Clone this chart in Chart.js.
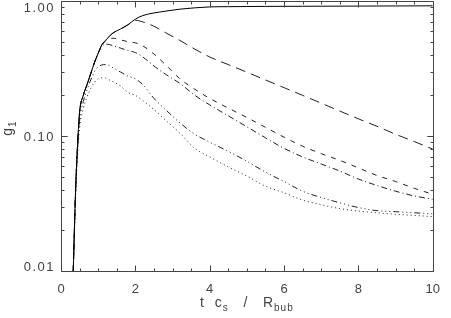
<!DOCTYPE html>
<html><head><meta charset="utf-8">
<script src="https://cdn.jsdelivr.net/npm/chart.js@4.4.0/dist/chart.umd.min.js"></script>
<style>html,body{margin:0;padding:0;background:#fff;overflow:hidden}</style>
</head><body>
<canvas id="c" width="451" height="318" style="display:block;width:451px;height:318px"></canvas>
<script>
// time axis (t c_s / R_bub)
const time = [0.33,0.36,0.4,0.45,0.5,0.6,0.7,0.8,0.9,1.0,1.1,1.2,1.3,1.4,1.6,1.8,2.0,2.2,2.5,2.8,3.2,3.6,4.0,4.5,5.0,5.5,6.0,6.5,7.0,7.5,8.0,8.5,9.0,9.5,10.0];
// g1 series
const gSolid    = [0.01,0.02,0.045,0.09,0.15,0.2,0.24,0.29,0.35,0.41,0.475,0.512,0.547,0.58,0.62,0.667,0.734,0.78,0.815,0.84,0.87,0.89,0.904,0.908,0.91,0.912,0.913,0.914,0.915,0.916,0.917,0.918,0.919,0.92,0.921];
const gLongDash = [0.01,0.02,0.045,0.09,0.15,0.2,0.24,0.29,0.35,0.41,0.475,0.512,0.547,0.58,0.62,0.665,0.72,0.70,0.65,0.585,0.51,0.44,0.385,0.338,0.297,0.26,0.228,0.2,0.175,0.153,0.134,0.118,0.103,0.091,0.08];
const gDash     = [0.01,0.02,0.045,0.09,0.15,0.2,0.24,0.29,0.35,0.41,0.47,0.505,0.53,0.53,0.515,0.50,0.49,0.465,0.405,0.34,0.265,0.222,0.19,0.161,0.137,0.116,0.098,0.084,0.074,0.066,0.058,0.051,0.046,0.041,0.037];
const gDashDot  = [0.01,0.02,0.045,0.09,0.15,0.2,0.24,0.29,0.35,0.41,0.46,0.48,0.476,0.466,0.448,0.43,0.415,0.385,0.33,0.288,0.245,0.2,0.17,0.141,0.117,0.097,0.081,0.07,0.062,0.055,0.048,0.043,0.039,0.036,0.034];
const gDash3Dot = [0.01,0.02,0.045,0.085,0.13,0.18,0.22,0.26,0.30,0.325,0.336,0.338,0.333,0.32,0.298,0.278,0.265,0.24,0.19,0.158,0.125,0.103,0.09,0.077,0.065,0.054,0.046,0.039,0.035,0.032,0.0295,0.028,0.0275,0.027,0.0265];
const gDotted   = [0.01,0.019,0.04,0.075,0.115,0.16,0.195,0.225,0.25,0.265,0.27,0.268,0.26,0.252,0.235,0.21,0.2,0.183,0.157,0.132,0.105,0.081,0.07,0.059,0.0505,0.0425,0.038,0.0335,0.031,0.029,0.0278,0.027,0.0263,0.0258,0.0253];
// ticks
const xTickValues = [0,2,4,6,8,10];
const xMinorStep = 0.5;
const yTickValues = [0.01,0.1,1];
const yTickLabels = ['0.01','0.10','1.00'];

const seriesList = [
  {data:gSolid, dash:[], color:'#000'},
  {data:gLongDash, dash:[10,6], color:'#222'},
  {data:gDash, dash:[5,6], color:'#222'},
  {data:gDashDot, dash:[6,3,1,3], color:'#222'},
  {data:gDash3Dot, dash:[6,3,1,3,1,3,1,3], color:'#222'},
  {data:gDotted, dash:[1,3], color:'#222'}
];

const FONT = '"Liberation Sans", Arial, sans-serif';
const TXT = '#444';

function drawRich(ctx, parts, startX, baseY, mainSize, subSize, subDrop){
  let x = startX;
  parts.forEach(p => {
    const size = p.sub ? subSize : mainSize;
    ctx.font = size + 'px ' + FONT;
    ctx.fillText(p.t, x, baseY + (p.sub ? subDrop : 0));
    x += ctx.measureText(p.t).width;
  });
  return x - startX;
}
function richWidth(ctx, parts, mainSize, subSize){
  let w = 0;
  parts.forEach(p => { ctx.font = (p.sub ? subSize : mainSize) + 'px ' + FONT; w += ctx.measureText(p.t).width; });
  return w;
}

const framePlugin = {
  id: 'frame',
  afterDraw(chart){
    const ctx = chart.ctx, a = chart.chartArea, xs = chart.scales.x, ys = chart.scales.y;
    ctx.save();
    ctx.strokeStyle = '#444'; ctx.lineWidth = 1;
    const L = Math.round(a.left)+0.5, R = Math.round(a.right)+0.5, T = Math.round(a.top)+0.5, B = Math.round(a.bottom)+0.5;
    ctx.beginPath();
    ctx.rect(L, T, R-L, B-T);
    for (let v = xs.min; v <= xs.max + 1e-9; v += xMinorStep){
      const px = Math.round(xs.getPixelForValue(v)) + 0.5;
      const major = xTickValues.some(t => Math.abs(t - v) < 1e-9);
      const len = major ? 6 : 3;
      ctx.moveTo(px, B); ctx.lineTo(px, B - len);
      ctx.moveTo(px, T); ctx.lineTo(px, T + len);
    }
    for (let d = Math.log10(ys.min); d < Math.log10(ys.max) - 1e-9; d++){
      for (let m = 1; m <= 10; m++){
        const v = m * Math.pow(10, d);
        const py = Math.round(ys.getPixelForValue(v)) + 0.5;
        const len = (m === 1 || m === 10) ? 6 : 3;
        ctx.moveTo(L, py); ctx.lineTo(L + len, py);
        ctx.moveTo(R, py); ctx.lineTo(R - len, py);
      }
    }
    ctx.stroke();
    // y tick labels
    ctx.fillStyle = TXT;
    ctx.font = '13px ' + FONT;
    ctx.textAlign = 'right'; ctx.textBaseline = 'middle';
    try { ctx.letterSpacing = '1.5px'; } catch(e) {}
    yTickValues.forEach((v, i) => {
      let py = ys.getPixelForValue(v) + 1.5;
      py = Math.min(Math.max(py, a.top + 7), a.bottom - 4);
      ctx.fillText(yTickLabels[i], a.left - 6, py);
    });
    // x title
    ctx.textAlign = 'left'; ctx.textBaseline = 'alphabetic';
    try { ctx.letterSpacing = '1px'; } catch(e) {}
    const xt = [{t:'t  c'},{t:'s',sub:true},{t:'   /   R'},{t:'bub',sub:true}];
    const w = richWidth(ctx, xt, 14, 10);
    const cx = (a.left + a.right)/2;
    drawRich(ctx, xt, cx - w/2, 307, 14, 10, 4);
    // y title
    const yt = [{t:'g'},{t:'1',sub:true}];
    ctx.save();
    ctx.translate(12, 128);
    ctx.rotate(-Math.PI/2);
    const wy = richWidth(ctx, yt, 14, 10);
    drawRich(ctx, yt, -wy/2, 0, 14, 10, 4);
    ctx.restore();
    ctx.restore();
  }
};

new Chart(document.getElementById('c'), {
  type: 'line',
  data: {
    datasets: seriesList.map(s => ({
      data: time.map((t, i) => ({x: t, y: s.data[i]})),
      borderColor: s.color,
      borderWidth: 1,
      borderDash: s.dash,
      pointRadius: 0,
      fill: false,
      cubicInterpolationMode: 'monotone'
    }))
  },
  options: {
    responsive: false,
    animation: false,
    devicePixelRatio: 1,
    layout: {padding: {top: 1, right: 9, left: 0, bottom: 0}},
    plugins: {legend: {display: false}, tooltip: {enabled: false}},
    scales: {
      x: {
        type: 'linear', min: 0, max: 10,
        grid: {display: false, drawTicks: false},
        border: {display: false},
        ticks: {stepSize: 2, color: TXT, font: {family: FONT, size: 13}, padding: 11, maxRotation: 0},
        afterBuildTicks: s => { s.ticks = xTickValues.map(v => ({value: v})); },
        afterFit: s => { s.height = 47; }
      },
      y: {
        type: 'logarithmic', min: 0.01, max: 1,
        grid: {display: false, drawTicks: false},
        border: {display: false},
        ticks: {display: false},
        afterFit: s => { s.width = 61; }
      }
    }
  },
  plugins: [framePlugin]
});
</script>
</body></html>
